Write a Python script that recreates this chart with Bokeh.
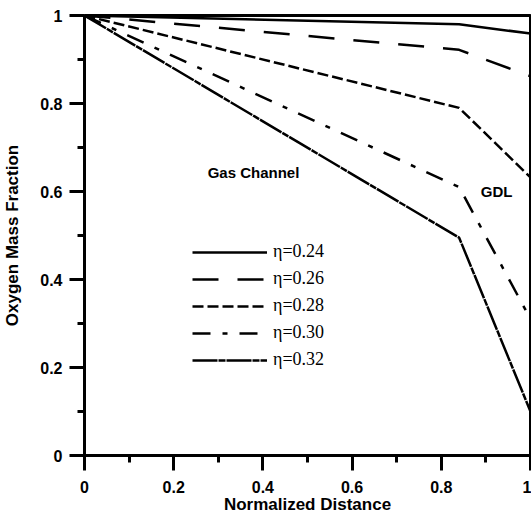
from bokeh.plotting import figure
from bokeh.models import (Range1d, FixedTicker, Legend, LegendItem, Label)
from bokeh.embed import file_html
from bokeh.resources import INLINE

# Normalized distance: channel inlet, channel/GDL interface, GDL end
distance = [0.0, 0.84, 1.0]

# Oxygen mass fraction for each overpotential
eta_labels = ["η=0.24", "η=0.26", "η=0.28", "η=0.30", "η=0.32"]
y_024 = [1.0, 0.980, 0.959]
y_026 = [1.0, 0.922, 0.862]
y_028 = [1.0, 0.790, 0.632]
y_030 = [1.0, 0.610, 0.310]
y_032 = [1.0, 0.495, 0.100]
series = [y_024, y_026, y_028, y_030, y_032]
dashes = ["solid", "26 19", "11 4", "18 12 5 12", "25 1 7 1"]

major_ticks = [0, 0.2, 0.4, 0.6, 0.8, 1.0]
minor_ticks = [0.1, 0.3, 0.5, 0.7, 0.9]

p = figure(width=531, height=516, output_backend="svg", toolbar_location=None,
           x_range=Range1d(0, 1), y_range=Range1d(0, 1),
           min_border_left=84, min_border_right=1, min_border_top=15,
           min_border_bottom=59)
p.grid.visible = False
p.outline_line_color = "black"
p.outline_line_width = 3
p.background_fill_color = "white"
p.border_fill_color = "white"

for ax in (p.xaxis[0], p.yaxis[0]):
    ax.ticker = FixedTicker(ticks=major_ticks, minor_ticks=minor_ticks)
    ax.major_label_overrides = {0: "0", 1: "1"}
    ax.axis_line_width = 3
    ax.major_tick_line_width = 3
    ax.minor_tick_line_width = 3
    ax.major_tick_out = 15
    ax.major_tick_in = 0
    ax.minor_tick_out = 7
    ax.minor_tick_in = 0
    ax.major_label_text_font = "Liberation Sans"
    ax.major_label_text_font_style = "bold"
    ax.major_label_text_font_size = "16px"
    ax.major_label_text_color = "black"
    ax.axis_label_text_font = "Liberation Sans"
    ax.axis_label_text_font_style = "bold"
    ax.axis_label_text_font_size = "17px"
    ax.axis_label_text_color = "black"

p.xaxis.axis_label = "Normalized Distance"
p.yaxis.axis_label = "Oxygen Mass Fraction"
p.xaxis.major_label_standoff = 10
p.xaxis.axis_label_standoff = -1
p.yaxis.major_label_standoff = 7
p.yaxis.axis_label_standoff = 15

items = []
for label, ys, dash in zip(eta_labels, series, dashes):
    r = p.line(distance, ys, line_color="black", line_width=2.5, line_dash=dash)
    items.append(LegendItem(label=label, renderers=[r]))

legend = Legend(items=items, location=(108, 85), orientation="vertical",
                glyph_width=75, glyph_height=20, label_height=20,
                label_standoff=6, spacing=6, padding=0, margin=0,
                border_line_alpha=0, background_fill_alpha=0,
                label_text_font="Liberation Serif", label_text_font_size="18px",
                label_text_color="black")
p.add_layout(legend, "center")

p.add_layout(Label(x=0.379, y=0.643, text="Gas Channel", text_align="center",
                   text_baseline="middle", text_font="Liberation Sans",
                   text_font_style="bold", text_font_size="15px",
                   text_color="black"))
p.add_layout(Label(x=0.924, y=0.600, text="GDL", text_align="center",
                   text_baseline="middle", text_font="Liberation Sans",
                   text_font_style="bold", text_font_size="15px",
                   text_color="black"))

open("out.html", "w").write(file_html(p, INLINE))
